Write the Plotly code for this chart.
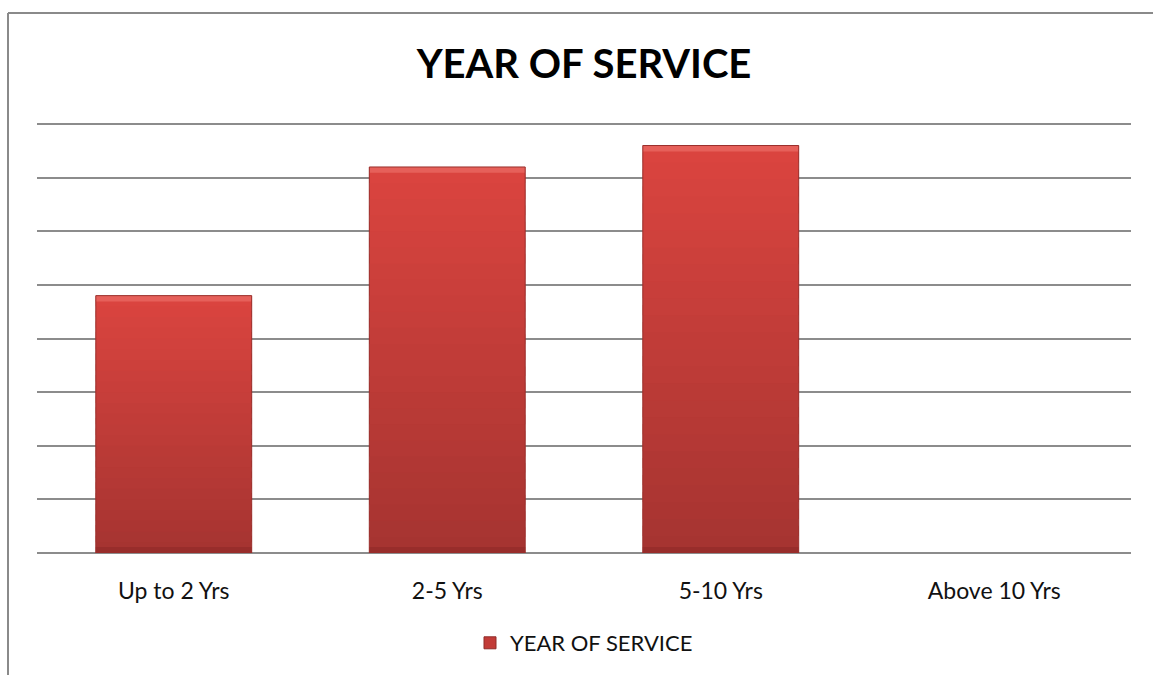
import plotly.graph_objects as go

# Service tenure distribution
categories = ["Up to 2 Yrs", "2-5 Yrs", "5-10 Yrs", "Above 10 Yrs"]
values = [24, 36, 38, 0]
y_ticks = [0, 5, 10, 15, 20, 25, 30, 35, 40]
series_name = "YEAR OF SERVICE"

W, H = 1153, 675
L, R, T, B = 37, 22, 123, 122
Y_MAX = 40.1
BAR_W = 0.57

# vertical shading of each bar: light at the top, deeper red at the base
N_BANDS = 24
top_rgb = (218, 68, 63)
bot_rgb = (166, 52, 49)
EDGE = 0.55  # thickness (axis units) of the bevelled top and bottom edges


def mix(a, b, t):
    return tuple(int(round(a[k] + (b[k] - a[k]) * t)) for k in range(3))


fig = go.Figure()
for i in range(N_BANDS):
    t = i / (N_BANDS - 1)  # 0 = bottom band, 1 = top band
    r, g, b = mix(bot_rgb, top_rgb, t)
    # each band reaches slightly into the next one so no seams show
    span = 1.0 if i == N_BANDS - 1 else 1.6
    fig.add_trace(go.Bar(
        x=categories,
        y=[v * span / N_BANDS for v in values],
        base=[v * i / N_BANDS for v in values],
        marker=dict(color=f"rgb({r},{g},{b})", line=dict(width=0)),
        width=BAR_W,
        showlegend=False,
        hoverinfo="skip",
    ))

# bevel: light strip along the top, darker strip along the base
fig.add_trace(go.Bar(
    x=categories,
    y=[EDGE if v else 0 for v in values],
    base=[v - EDGE if v else 0 for v in values],
    marker=dict(color="rgb(230,96,90)", line=dict(width=0)),
    width=BAR_W, showlegend=False, hoverinfo="skip",
))
fig.add_trace(go.Bar(
    x=categories,
    y=[EDGE if v else 0 for v in values],
    base=[0 for v in values],
    marker=dict(color="rgb(152,45,43)", line=dict(width=0)),
    width=BAR_W, showlegend=False, hoverinfo="skip",
))

# outline (skipped for empty categories)
fig.add_trace(go.Bar(
    x=categories,
    y=values,
    name=series_name,
    width=BAR_W,
    marker=dict(color="rgba(0,0,0,0)",
                line=dict(color="#9a2f2c", width=[1 if v else 0 for v in values])),
    showlegend=False,
))
# legend entry
fig.add_trace(go.Bar(
    x=[None], y=[None], name=series_name,
    marker=dict(color="#c23b37", line=dict(color="#8f2c29", width=1)),
    showlegend=True,
))

# outer chart frame (left and top edges)
px = lambda x: (x - L) / (W - L - R)
py = lambda y: 1 - (y - T) / (H - T - B)
fig.add_shape(type="line", xref="paper", yref="paper",
              x0=px(8), x1=px(8), y0=py(13), y1=py(680),
              line=dict(color="#8a8a8a", width=2))
fig.add_shape(type="line", xref="paper", yref="paper",
              x0=px(8), x1=px(1160), y0=py(13), y1=py(13),
              line=dict(color="#8a8a8a", width=2))

fig.update_layout(
    width=W, height=H,
    margin=dict(l=L, r=R, t=T, b=B),
    paper_bgcolor="white",
    plot_bgcolor="white",
    barmode="overlay",
    font=dict(family="Lato, 'Open Sans', sans-serif", color="#111111"),
    title=dict(
        text="<b>YEAR OF SERVICE</b>",
        x=0.5, xanchor="center", xref="paper",
        y=1 - 64 / H, yanchor="middle", yref="container",
        font=dict(size=40, color="#000000", family="Lato, 'Open Sans', sans-serif"),
    ),
    xaxis=dict(
        showgrid=False, showline=False, ticks="", zeroline=False,
        tickfont=dict(size=23, color="#111111"),
        ticklabelstandoff=22,
    ),
    yaxis=dict(
        range=[0, Y_MAX], tickvals=y_ticks, showticklabels=False,
        showgrid=True, gridcolor="#8c8c8c", gridwidth=1.5,
        zeroline=True, zerolinecolor="#8c8c8c", zerolinewidth=1.5,
        showline=False, ticks="",
    ),
    legend=dict(
        orientation="h", x=0.5, xanchor="center",
        y=1 - 643 / H, yanchor="middle", yref="container",
        font=dict(size=22, color="#111111"),
        itemwidth=30,
    ),
)

fig.write_html("out.html")
